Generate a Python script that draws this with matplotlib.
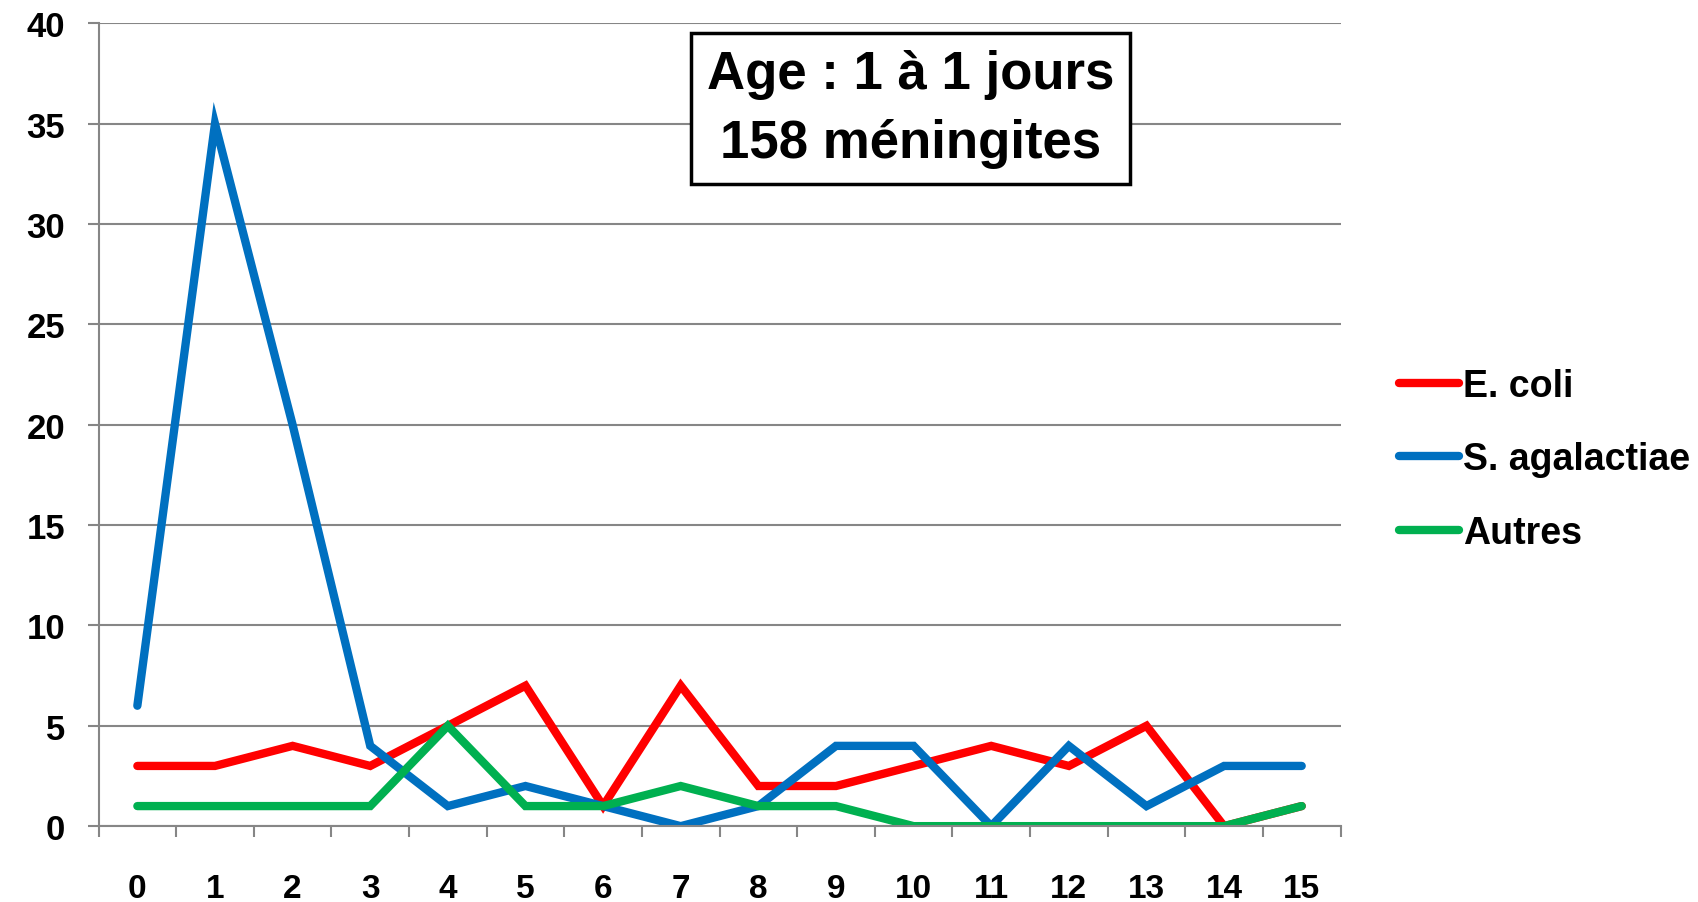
import matplotlib.pyplot as plt
from matplotlib.ticker import MultipleLocator, FixedLocator

ages = list(range(16))
ecoli = [3, 3, 4, 3, 5, 7, 1, 7, 2, 2, 3, 4, 3, 5, 0, 1]
sagal = [6, 35, 20, 4, 1, 2, 1, 0, 1, 4, 4, 0, 4, 1, 3, 3]
autres = [1, 1, 1, 1, 5, 1, 1, 2, 1, 1, 0, 0, 0, 0, 0, 1]
labels = ["E. coli", "S. agalactiae", "Autres"]
colors = ["#FF0000", "#0070C0", "#00B050"]

plt.rcParams["font.family"] = ["Liberation Sans", "DejaVu Sans"]
plt.rcParams["font.weight"] = "bold"

fig = plt.figure(figsize=(16.99, 9.03), dpi=100)
ax = fig.add_axes([0.058, 0.084, 0.731, 0.889])

for vals, lab, col in zip([ecoli, sagal, autres], labels, colors):
    ax.plot(ages, vals, color=col, lw=6, label=lab, solid_capstyle="round",
            solid_joinstyle="miter")

grid_c = "#868686"
ax.set_xlim(-0.5, 15.5)
ax.set_ylim(0, 40)
ax.yaxis.set_major_locator(MultipleLocator(5))
ax.grid(axis="y", color=grid_c, lw=1.5)
ax.set_axisbelow(True)
for s in ["top", "right"]:
    ax.spines[s].set_visible(False)
for s in ["left", "bottom"]:
    ax.spines[s].set_color(grid_c)
    ax.spines[s].set_linewidth(1.5)

ax.set_xticks(ages)
ax.set_xticklabels([str(a) for a in ages])
ax.xaxis.set_minor_locator(FixedLocator([i - 0.5 for i in range(17)]))
ax.tick_params(axis="x", which="major", length=0, pad=34, labelsize=24)
ax.tick_params(axis="x", which="minor", length=8, width=1.5, color=grid_c)
ax.tick_params(axis="y", length=8, width=1.5, color=grid_c, pad=16, labelsize=25)

ax.text(0.654, 0.894, "Age : 1 à 1 jours\n158 méningites", transform=ax.transAxes,
        ha="center", va="center", fontsize=38, fontweight="bold", linespacing=1.5,
        bbox=dict(boxstyle="square,pad=0.3", fc="white", ec="black", lw=2.5))

leg = ax.legend(loc="center left", bbox_to_anchor=(1.02, 0.457), frameon=False,
                fontsize=27, handlelength=1.6, handletextpad=0.1, labelspacing=1.0)
for t in leg.get_texts():
    t.set_fontweight("bold")

fig.savefig("out.png", dpi=100)
